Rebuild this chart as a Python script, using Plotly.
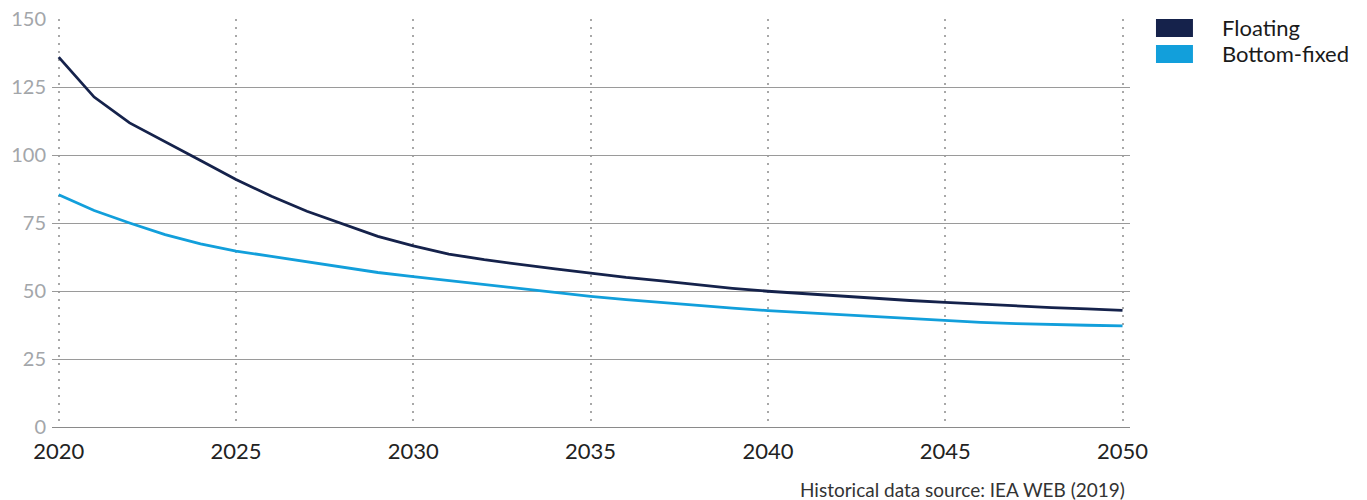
import plotly.graph_objects as go

years = list(range(2020, 2051))

floating = [136.0, 121.3, 111.8, 105.0, 98.0, 91.0, 84.8, 79.3, 74.7, 70.1,
            66.6, 63.6, 61.5, 59.7, 58.1, 56.6, 55.0, 53.7, 52.3, 51.0,
            49.9, 49.0, 48.1, 47.3, 46.5, 45.8, 45.1, 44.5, 43.9, 43.4, 42.9]

bottom_fixed = [85.4, 79.6, 75.0, 70.7, 67.3, 64.7, 62.7, 60.8, 58.8, 56.8,
                55.3, 53.8, 52.3, 51.0, 49.5, 48.0, 46.8, 45.7, 44.7, 43.7,
                42.8, 42.1, 41.3, 40.5, 39.8, 39.1, 38.5, 38.0, 37.6, 37.4, 37.2]

series_names = ["Floating", "Bottom-fixed"]
series_colors = ["#15224b", "#129fdb"]

x_ticks = [2020, 2025, 2030, 2035, 2040, 2045, 2050]
y_ticks = [0, 25, 50, 75, 100, 125, 150]

source_note = "Historical data source: IEA WEB (2019)"

FONT = "Lato"

fig = go.Figure()
for name, vals, col in zip(series_names, [floating, bottom_fixed], series_colors):
    fig.add_trace(go.Scatter(
        x=years, y=vals, mode="lines", name=name,
        line=dict(color=col, width=2.8), showlegend=False,
        hoverinfo="x+y",
    ))

# Legend built from swatches and labels on the right side
sw_x0, sw_x1, txt_x = 1.0241, 1.0584, 1.0835
sw_rows = [(0.9559, 1.0), (0.8922, 0.9363)]
for (y0, y1), name, col in zip(sw_rows, series_names, series_colors):
    fig.add_shape(type="rect", xref="paper", yref="paper",
                  x0=sw_x0, x1=sw_x1, y0=y0, y1=y1,
                  fillcolor=col, line=dict(width=0))
    fig.add_annotation(xref="paper", yref="paper", x=txt_x, y=(y0 + y1) / 2,
                       text=name, showarrow=False, xanchor="left", yanchor="middle",
                       font=dict(family=FONT, size=22, color="#1a1a1a"))

fig.add_annotation(xref="paper", yref="paper", x=0.9972, y=-0.1544,
                   text=source_note, showarrow=False,
                   xanchor="right", yanchor="middle",
                   font=dict(family=FONT, size=19, color="#333333"))

fig.update_layout(
    width=1367, height=500,
    margin=dict(l=52, r=237, t=19, b=73, autoexpand=False),
    paper_bgcolor="white", plot_bgcolor="white",
    font=dict(family=FONT),
    xaxis=dict(
        range=[2019.811, 2050.211],
        tickmode="array", tickvals=x_ticks,
        ticktext=[str(t) for t in x_ticks],
        showgrid=True, gridcolor="#a8a8a8", gridwidth=2, griddash="2px,6px",
        zeroline=False, automargin=False,
        showline=True, linecolor="#8a8a8a", linewidth=1.3,
        ticks="", ticklabelstandoff=4,
        tickfont=dict(family=FONT, size=22, color="#222222"),
    ),
    yaxis=dict(
        range=[0, 150],
        tickmode="array", tickvals=y_ticks,
        showgrid=True, gridcolor="#9a9a9a", gridwidth=1.2,
        zeroline=False, showline=False, automargin=False,
        ticks="", ticklabelstandoff=5,
        tickfont=dict(family=FONT, size=20, color="#a3a6aa"),
    ),
)

fig.write_html("out.html")
